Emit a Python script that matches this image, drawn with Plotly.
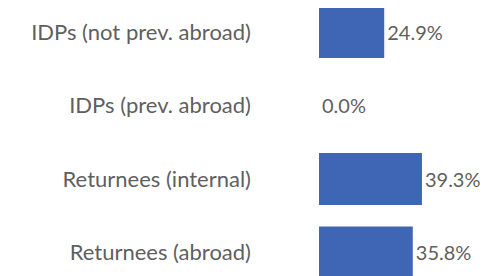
import plotly.graph_objects as go

categories = ["IDPs (not prev. abroad)", "IDPs (prev. abroad)", "Returnees (internal)", "Returnees (abroad)"]
values = [24.9, 0.0, 39.3, 35.8]
labels = [f"{v:.1f}%" for v in values]

font_family = "Lato, 'Open Sans', sans-serif"
grey = "#5f5f5f"

fig = go.Figure(go.Bar(
    x=values, y=categories, orientation="h",
    marker=dict(color="#3F65B5", line=dict(width=0)),
    text=labels, textposition="outside", cliponaxis=False,
    textfont=dict(family=font_family, size=20, color=grey),
))
# page body has an 8px default margin, so the figure is sized to fill the rest
fig.update_layout(
    width=481, height=268,
    margin=dict(l=311, r=0, t=0, b=0, pad=0, autoexpand=False),
    paper_bgcolor="white", plot_bgcolor="white",
    bargap=0.29, showlegend=False,
    font=dict(family=font_family, size=20, color=grey),
)
fig.update_xaxes(range=[0, 64.9], visible=False, showgrid=False, zeroline=False,
                 automargin=False)
fig.update_yaxes(categoryorder="array", categoryarray=categories,
                 range=[3.32, -0.3265], showgrid=False, zeroline=False,
                 showline=False, ticks="", ticklabelstandoff=67, automargin=False,
                 tickfont=dict(family=font_family, size=22, color=grey))
fig.write_html("out.html")
